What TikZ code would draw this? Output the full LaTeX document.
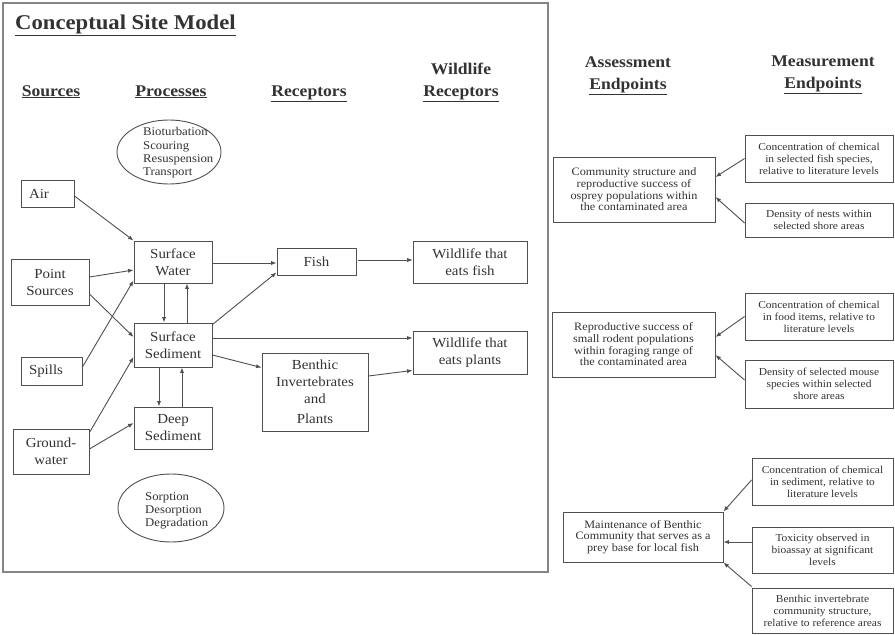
\documentclass[tikz,border=0pt]{standalone}
\usepackage{fontspec}
\setmainfont{Liberation Serif}[FakeStretch=1.08]
\usetikzlibrary{shapes.geometric,arrows.meta,calc}
\definecolor{ink}{HTML}{333333}
\definecolor{edge}{HTML}{505050}
\definecolor{framegray}{HTML}{858585}
\begin{document}
\begin{tikzpicture}[x=1pt,y=-1pt,
  box/.style={draw=edge, line width=0.9pt, inner sep=0pt, align=center, text=ink,
    font=\fontsize{13.8}{17}\selectfont},
  small/.style={box, font=\fontsize{10.6}{12}\selectfont},
  mid/.style={box, font=\fontsize{11.3}{11.7}\selectfont},
  oval/.style={draw=edge, line width=0.9pt, ellipse, inner sep=0pt},
  ovaltext/.style={align=left, text=ink, inner sep=0pt, font=\fontsize{11.8}{13.3}\selectfont},
  head/.style={align=center, text=ink, inner sep=0pt, font=\fontsize{16.3}{22}\selectfont\bfseries},
  flow/.style={draw=edge, line width=0.9pt, -{Latex[length=5.5pt,width=4.2pt]}},
]
\useasboundingbox (0,0) rectangle (895,635);
\fill[white] (0,0) rectangle (895,635);

% frame of the site model
\draw[framegray, line width=2pt] (3,3) rectangle (548,572);

% titles and column headings (multi-line headings sit on their last baseline)
\node[anchor=base west, inner sep=0pt, text=ink, font=\fontsize{21}{25}\selectfont\bfseries] (title) at (15,29) {\underline{Conceptual Site Model}};
\node[head, anchor=base] (hsrc) at (51,96) {\underline{Sources}};
\node[head, anchor=base] (hproc) at (171,96) {\underline{Processes}};
\node[head, anchor=base] (hrec) at (309,96) {\underline{Receptors}};
\node[head, anchor=base] (hwild) at (461,96) {Wildlife\\\underline{Receptors}};
\node[head, anchor=base] (hassess) at (628,89) {Assessment\\\underline{Endpoints}};
\node[head, anchor=base] (hmeas) at (823,88) {Measurement\\\underline{Endpoints}};

% process ellipses
\node[oval, minimum width=104, minimum height=64] (proc1) at (169,152) {};
\node[ovaltext, anchor=west] (proc1t) at ($(proc1.center)+(-26,1)$) {Bioturbation\\Scouring\\Resuspension\\Transport};
\node[oval, minimum width=106, minimum height=68] (proc2) at (171,508) {};
\node[ovaltext, anchor=west] (proc2t) at ($(proc2.center)+(-26,3)$) {Sorption\\Desorption\\Degradation};

% sources
\node[box, minimum width=53, minimum height=27, text width=37, inner xsep=8pt, align=left] (air) at (47.5,193.5) {Air};
\node[box, minimum width=78, minimum height=46] (ps) at (50,282) {Point\\Sources};
\node[box, minimum width=61, minimum height=28, text width=45, inner xsep=8pt, align=left] (sp) at (51.5,371) {Spills};
\node[box, minimum width=76, minimum height=45] (gw) at (51,451.5) {Ground-\\water};

% media
\node[box, minimum width=78, minimum height=42] (sw) at (173,262) {Surface\\Water};
\node[box, minimum width=78, minimum height=44] (ss) at (173,345) {Surface\\Sediment};
\node[box, minimum width=78, minimum height=42] (ds) at (173,428) {Deep\\Sediment};

% receptors
\node[box, minimum width=79, minimum height=27] (fish) at (316.5,261.5) {Fish};
\node[box, minimum width=106, minimum height=78] (bi) at (315,392) {Benthic\\Invertebrates\\and\\[3pt]Plants};
\node[box, minimum width=114, minimum height=42] (wf) at (470,262) {Wildlife that\\eats fish};
\node[box, minimum width=114, minimum height=43] (wp) at (470,352.5) {Wildlife that\\eats plants};

% assessment endpoints
\node[mid, minimum width=162, minimum height=65] (a1) at (634,189.5) {Community structure and\\reproductive success of\\osprey populations within\\the contaminated area};
\node[mid, minimum width=163, minimum height=65] (a2) at (633.5,344.5) {Reproductive success of\\small rodent populations\\within foraging range of\\the contaminated area};
\node[mid, minimum width=160, minimum height=50] (a3) at (643,537) {Maintenance of Benthic\\Community that serves as a\\prey base for local fish};

% measurement endpoints
\node[small, minimum width=148, minimum height=47] (m1) at (819,158.5) {Concentration of chemical\\in selected fish species,\\relative to literature levels};
\node[small, minimum width=148, minimum height=34] (m2) at (819,220) {Density of nests within\\selected shore areas};
\node[small, minimum width=148, minimum height=47] (m3) at (819,316.5) {Concentration of chemical\\in food items, relative to\\literature levels};
\node[small, minimum width=148, minimum height=48] (m4) at (819,384) {Density of selected mouse\\species within selected\\shore areas};
\node[small, minimum width=141, minimum height=47] (m5) at (822.5,481.5) {Concentration of chemical\\in sediment, relative to\\literature levels};
\node[small, minimum width=141, minimum height=46] (m6) at (822.5,550) {Toxicity observed in\\bioassay at significant\\levels};
\node[small, minimum width=141, minimum height=45] (m7) at (822.5,610.5) {Benthic invertebrate\\community structure,\\relative to reference areas};

% pathways into the media
\draw[flow] ($(air.east)+(0,2.5)$) -- (sw.north west);
\draw[flow] ($(ps.east)+(0,-5)$) -- ($(sw.west)+(0,8)$);
\draw[flow] ($(ps.east)+(0,12)$) -- ($(ss.west)+(0,-8)$);
\draw[flow] ($(sp.east)+(0,-4)$) -- ($(sw.south west)+(0,-3)$);
\draw[flow] ($(gw.north east)+(0,4)$) -- ($(ss.west)+(0,12)$);
\draw[flow] ($(gw.east)+(0,-2.5)$) -- ($(ds.west)+(0,-5)$);

% exchange between media
\draw[flow] ($(sw.south)+(-9,0)$) -- ($(ss.north)+(-9,0)$);
\draw[flow] ($(ss.north)+(14,0)$) -- ($(sw.south)+(14,0)$);
\draw[flow] ($(ss.south)+(-14,0)$) -- ($(ds.north)+(-14,0)$);
\draw[flow] ($(ds.north)+(9,0)$) -- ($(ss.south)+(9,0)$);

% exposure of receptors
\draw[flow] ($(sw.east)+(0,1)$) -- ($(fish.west)+(0,1.5)$);
\draw[flow] ($(ss.north east)+(0,2)$) -- ($(fish.south west)+(0,-3)$);
\draw[flow] ($(ss.east)+(0,-7)$) -- ($(wp.west)+(0,-14.5)$);
\draw[flow] ($(ss.east)+(0,10)$) -- ($(bi.north west)+(0,15)$);
\draw[flow, line width=0.6pt] ($(fish.east)+(2,-1.5)$) -- ($(wf.west)+(0,-2)$);
\draw[flow] ($(bi.east)+(0,-16)$) -- ($(wp.south west)+(0,-4)$);

% measurement endpoints feeding the assessment endpoints
\draw[flow] (m1.west) -- ($(a1.east)+(0,-12.5)$);
\draw[flow] ($(m2.west)+(0,3)$) -- ($(a1.east)+(0,7.5)$);
\draw[flow] (m3.west) -- ($(a2.east)+(0,-7.5)$);
\draw[flow] ($(m4.west)+(0,-4)$) -- ($(a2.east)+(0,10.5)$);
\draw[flow] ($(m5.west)+(0,-1.5)$) -- (a3.north east);
\draw[flow] ($(m6.west)+(0,-8)$) -- ($(a3.east)+(0,5)$);
\draw[flow] ($(m7.north west)+(0,-1)$) -- (a3.south east);
\end{tikzpicture}
\end{document}
